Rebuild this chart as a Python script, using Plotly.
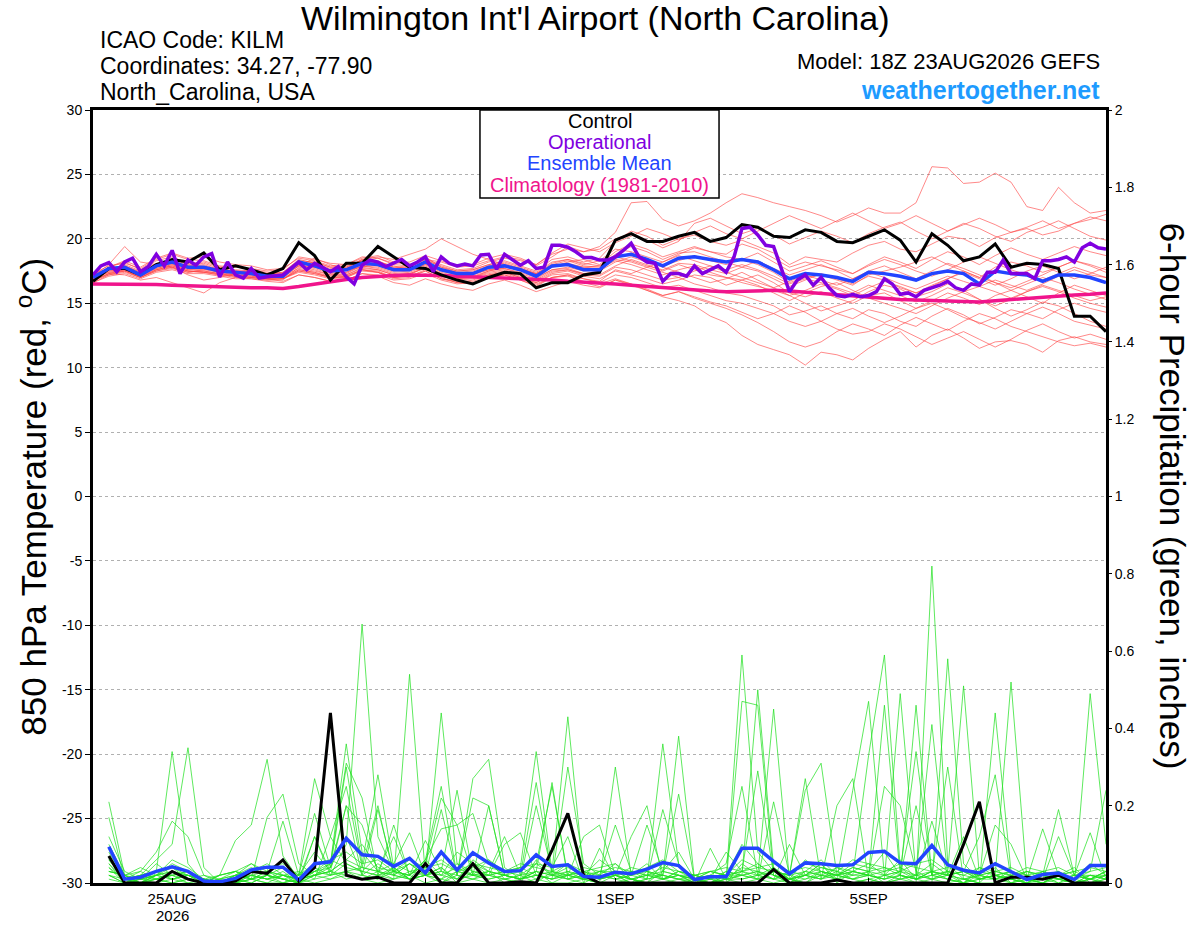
import pandas as pd
import plotly.graph_objects as go

# GEFS 18Z 23AUG2026 run, 6-hourly steps (operational is 3-hourly)
times = pd.date_range("2026-08-23 18:00", periods=65, freq="6h")
op_times = pd.date_range("2026-08-23 18:00", periods=129, freq="3h")
precip_times = times[1:]

tick_dates = ["2026-08-25", "2026-08-27", "2026-08-29", "2026-09-01",
              "2026-09-03", "2026-09-05", "2026-09-07"]
tick_labels = ["25AUG", "27AUG", "29AUG", "1SEP", "3SEP", "5SEP", "7SEP"]
year_label = "2026"

temp_ticks = [-30, -25, -20, -15, -10, -5, 0, 5, 10, 15, 20, 25, 30]

# 850 hPa temperature (C)
control_t = [16.7, 17.7, 17.7, 17.2, 18.0, 18.4, 18.2, 18.9, 17.6, 17.9, 17.6, 17.2, 17.7,
             19.7, 18.7, 16.8, 18.1, 18.1, 19.4, 18.6, 17.8, 17.7, 17.2, 16.8, 16.5, 17.0,
             17.4, 17.3, 16.2, 16.6, 16.6, 17.2, 17.4, 19.9, 20.4, 19.8, 19.8, 20.2, 20.5,
             19.8, 20.1, 21.1, 20.9, 20.2, 20.1, 20.7, 20.5, 19.8, 19.7, 20.2, 20.7, 19.9,
             18.2, 20.4, 19.5, 18.3, 18.6, 19.6, 17.8, 18.1, 18.0, 17.7, 14.0, 14.0, 12.8]

mean_t = [17.0, 17.7, 17.8, 17.2, 17.9, 18.2, 17.8, 17.8, 17.5, 17.4, 17.3, 17.1, 17.1,
          18.2, 17.9, 17.5, 17.6, 18.1, 18.0, 17.6, 17.6, 18.2, 17.6, 17.3, 17.3, 17.8,
          17.9, 17.6, 17.1, 17.9, 18.0, 17.6, 17.6, 18.6, 18.8, 18.4, 17.9, 18.5, 18.6,
          18.4, 18.2, 18.4, 18.2, 17.6, 16.9, 17.3, 17.2, 17.0, 16.7, 17.4, 17.3, 17.1,
          16.8, 17.3, 17.5, 17.3, 16.5, 17.5, 17.3, 17.2, 16.7, 17.2, 17.2, 17.0, 16.6]

climo_t = [16.5, 16.5, 16.5, 16.5, 16.45, 16.4, 16.35, 16.3, 16.3, 16.25,
           16.2, 16.2, 16.15, 16.3, 16.5, 16.7, 16.85, 17.0, 17.1, 17.15,
           17.2, 17.2, 17.15, 17.1, 17.05, 17.0, 17.0, 16.95, 16.9, 16.8,
           16.7, 16.65, 16.6, 16.5, 16.4, 16.3, 16.2, 16.1, 16.0, 15.95,
           15.9, 15.95, 16.0, 16.0, 15.95, 15.85, 15.75, 15.65, 15.55, 15.45,
           15.35, 15.3, 15.25, 15.2, 15.15, 15.1, 15.1, 15.2, 15.3, 15.4,
           15.5, 15.6, 15.65, 15.7, 15.8]

oper_t = [17.2, 17.9, 18.15, 17.45, 18.2, 18.5, 17.45, 17.85, 18.8, 17.9,
          19.1, 17.3, 18.35, 17.95, 18.6, 18.85, 17.05, 18.2, 17.2, 16.95,
          17.7, 16.95, 17.05, 17.1, 17.2, 17.7, 18.2, 17.6, 18.1, 17.8,
          17.45, 17.85, 17.05, 16.5, 17.95, 18.35, 18.2, 17.85, 18.1, 18.4,
          17.9, 18.2, 18.6, 17.45, 18.6, 18.1, 17.9, 18.05, 17.9, 18.75,
          18.8, 17.65, 18.8, 18.35, 17.95, 18.3, 17.7, 17.8, 19.5, 19.5,
          19.35, 19.0, 18.55, 18.55, 18.35, 18.35, 18.6, 19.1, 19.65, 18.6,
          18.2, 18.1, 16.7, 17.3, 17.3, 17.1, 17.9, 17.3, 17.6, 17.9,
          17.4, 18.6, 20.8, 20.9, 20.3, 19.5, 19.4, 17.6, 15.9, 16.8,
          17.2, 16.4, 17.0, 16.2, 15.6, 15.5, 15.7, 15.5, 15.6, 15.9,
          16.9, 16.5, 15.7, 15.8, 15.5, 16.0, 16.2, 16.4, 16.7, 16.2,
          16.0, 16.5, 16.4, 17.4, 17.4, 18.35, 17.3, 17.3, 17.3, 16.9,
          18.3, 18.3, 18.4, 18.6, 18.2, 19.3, 19.65, 19.3, 19.2]

# ensemble members, temperature
mem_t01 = [17.2, 17.6, 18.0, 17.5, 18.1, 18.3, 17.9, 18.0, 17.6, 17.5, 17.4, 17.2, 17.3,
           18.0, 18.2, 17.8, 17.9, 18.3, 18.5, 18.0, 17.9, 18.4, 18.0, 17.6, 17.7, 18.2,
           18.5, 18.3, 18.0, 18.8, 19.2, 19.0, 19.4, 20.5, 22.8, 22.9, 21.5, 21.0, 21.4,
           22.0, 22.8, 23.5, 23.2, 22.8, 22.5, 22.2, 21.8, 21.3, 21.8, 22.4, 22.0, 22.0,
           22.8, 25.6, 25.5, 24.3, 24.4, 25.1, 24.4, 22.5, 22.2, 24.0, 22.8, 22.0, 22.2]
mem_t02 = [16.8, 17.3, 17.5, 17.0, 17.6, 17.9, 17.5, 17.4, 17.2, 17.0, 16.9, 16.8, 16.9,
           17.5, 17.3, 17.0, 17.1, 17.6, 17.4, 17.0, 17.2, 17.8, 17.0, 16.6, 16.5, 17.0,
           17.2, 16.8, 16.3, 17.0, 17.2, 16.6, 16.3, 16.8, 16.5, 16.0, 15.5, 15.2, 14.8,
           14.0, 13.5, 12.5, 11.8, 11.4, 11.0, 10.2, 11.2, 11.0, 10.6, 11.5, 12.2, 12.8,
           11.6, 12.5, 13.0, 12.3, 11.5, 12.0, 12.1, 11.8, 11.2, 12.1, 12.4, 12.0, 11.8]
mem_t03 = [16.9, 17.8, 18.2, 17.6, 18.3, 18.6, 18.1, 18.2, 17.8, 17.6, 17.5, 17.3, 17.4,
           18.4, 18.1, 17.7, 17.8, 18.4, 18.3, 17.8, 17.7, 18.6, 17.8, 17.5, 17.6, 18.0,
           18.3, 17.9, 17.5, 18.4, 18.6, 18.2, 18.5, 19.8, 20.6, 20.2, 19.5, 20.0, 20.3,
           19.8, 19.5, 19.9, 19.4, 18.9, 18.0, 18.6, 18.4, 18.2, 18.9, 19.5, 19.8, 19.2,
           19.0, 19.6, 20.2, 20.0, 19.4, 20.1, 20.5, 20.8, 20.3, 20.6, 21.2, 21.5, 21.9]
mem_t04 = [17.0, 17.4, 17.6, 17.1, 17.7, 18.0, 17.6, 17.5, 17.3, 17.1, 17.0, 16.8, 16.8,
           17.8, 17.6, 17.2, 17.3, 17.9, 17.7, 17.3, 17.4, 17.9, 17.3, 17.0, 17.0, 17.4,
           17.6, 17.2, 16.8, 17.5, 17.6, 17.2, 17.1, 17.8, 17.6, 17.2, 16.8, 17.0, 16.5,
           16.2, 15.8, 15.6, 15.2, 14.8, 14.1, 14.4, 14.8, 14.2, 13.8, 14.5, 14.2, 13.6,
           13.2, 14.0, 14.6, 14.1, 13.4, 13.9, 14.5, 14.2, 13.8, 14.5, 15.0, 14.6, 14.3]
mem_t05 = [17.1, 18.0, 19.4, 18.2, 18.0, 17.8, 17.2, 16.8, 17.0, 17.3, 17.6, 17.4, 17.2,
           17.9, 18.5, 18.0, 17.6, 17.8, 18.2, 17.9, 17.6, 18.0, 17.7, 17.4, 17.3, 17.6,
           17.9, 17.5, 17.2, 17.8, 18.2, 18.4, 18.0, 19.0, 19.6, 19.2, 18.6, 19.0, 19.4,
           19.0, 18.6, 18.4, 18.0, 17.4, 16.6, 17.0, 17.2, 16.8, 16.4, 17.2, 17.5, 17.8,
           18.2, 18.6, 18.0, 17.5, 17.0, 17.8, 18.2, 17.9, 17.4, 17.8, 18.3, 18.0, 17.6]
mem_t06 = [16.6, 17.2, 17.4, 17.0, 17.5, 17.7, 17.4, 17.6, 17.8, 17.9, 17.6, 17.2, 16.9,
           17.4, 17.2, 16.9, 17.0, 17.6, 17.4, 16.9, 17.0, 17.5, 16.9, 16.6, 16.8, 17.2,
           17.4, 17.0, 16.6, 17.3, 17.5, 17.1, 16.9, 17.5, 17.2, 16.9, 16.5, 16.8, 17.2,
           17.0, 16.4, 16.8, 17.2, 16.6, 15.8, 15.5, 15.9, 15.4, 15.0, 15.6, 15.8, 15.2,
           14.6, 15.2, 15.8, 15.4, 14.9, 15.6, 16.0, 15.5, 15.0, 15.8, 16.4, 16.0, 15.6]
mem_t07 = [17.3, 17.9, 18.1, 17.7, 18.4, 18.8, 18.4, 18.3, 17.9, 17.8, 17.7, 17.5, 17.6,
           18.6, 18.4, 18.1, 18.0, 18.5, 18.7, 18.2, 18.0, 18.4, 18.2, 17.8, 17.9, 18.3,
           18.6, 18.4, 17.9, 18.6, 19.4, 19.0, 19.2, 20.0, 20.4, 19.9, 19.3, 19.8, 21.2,
           21.6, 21.0, 20.4, 20.8, 20.3, 19.6, 20.1, 20.6, 20.2, 19.7, 20.4, 20.9, 21.3,
           20.6, 20.0, 20.6, 21.2, 20.8, 20.2, 19.8, 20.5, 20.9, 21.4, 20.8, 20.2, 19.9]
mem_t08 = [16.9, 17.5, 17.7, 17.3, 17.8, 18.1, 17.7, 17.6, 17.4, 17.2, 17.1, 17.0, 17.0,
           17.9, 17.8, 17.4, 17.4, 18.0, 17.9, 17.5, 17.6, 18.1, 17.5, 17.2, 17.2, 17.6,
           17.7, 17.4, 17.0, 17.6, 17.7, 17.3, 17.2, 17.9, 18.4, 18.0, 17.5, 18.0, 17.6,
           17.2, 17.0, 16.6, 16.3, 16.0, 15.6, 15.0, 14.4, 14.8, 15.2, 15.9, 16.4, 16.1,
           15.5, 15.9, 16.5, 16.0, 15.3, 14.6, 14.0, 14.5, 15.1, 14.8, 14.2, 13.6, 13.2]
mem_t09 = [16.8, 17.3, 17.2, 16.8, 17.0, 16.6, 16.2, 15.8, 16.6, 17.0, 17.3, 16.9, 16.7,
           17.2, 17.0, 16.7, 16.8, 17.3, 17.1, 16.6, 16.4, 16.9, 16.5, 16.2, 16.0, 16.5,
           16.8, 16.4, 15.9, 16.3, 16.7, 16.4, 16.2, 16.8, 16.4, 16.0, 15.6, 15.9, 15.4,
           15.0, 14.6, 14.1, 13.5, 12.8, 12.0, 11.6, 12.0, 12.8, 13.4, 13.0, 12.5, 13.3,
           13.9, 13.4, 12.9, 13.6, 14.2, 13.8, 13.2, 12.8, 12.4, 12.0, 11.7, 11.9, 11.6]
mem_t10 = [17.2, 17.7, 17.9, 17.4, 18.0, 18.4, 18.0, 18.1, 17.7, 17.5, 17.4, 17.2, 17.3,
           18.2, 18.0, 17.6, 17.7, 18.2, 18.1, 17.7, 17.8, 18.3, 17.9, 17.5, 17.6, 18.0,
           18.2, 17.8, 17.4, 18.2, 18.4, 18.0, 18.3, 19.2, 19.0, 18.6, 18.2, 18.8, 19.3,
           19.0, 18.8, 19.6, 19.2, 18.5, 17.8, 18.2, 17.9, 17.6, 17.3, 18.0, 18.6, 18.2,
           17.7, 18.4, 19.0, 18.6, 18.0, 18.7, 19.3, 18.8, 18.4, 18.9, 19.4, 19.0, 18.7]
mem_t11 = [17.0, 17.6, 17.9, 17.4, 17.9, 18.2, 17.8, 17.8, 17.5, 17.4, 17.3, 17.0, 17.2,
           18.0, 17.8, 17.5, 17.7, 18.4, 18.6, 18.4, 18.8, 19.2, 20.0, 19.4, 18.8, 18.4,
           18.0, 17.6, 17.3, 17.9, 18.1, 17.8, 17.7, 18.3, 18.0, 17.6, 17.2, 17.6, 17.9,
           17.4, 17.0, 16.8, 16.4, 15.8, 15.2, 15.8, 16.3, 16.6, 16.0, 15.4, 15.0, 14.6,
           14.2, 14.8, 15.4, 15.9, 16.3, 16.8, 16.4, 16.0, 16.5, 17.1, 17.6, 17.2, 17.0]
mem_t12 = [16.7, 17.3, 17.6, 17.2, 17.7, 18.0, 17.6, 17.7, 17.5, 17.3, 17.2, 17.1, 17.1,
           17.7, 17.5, 17.2, 17.2, 17.7, 17.6, 17.2, 17.3, 17.8, 17.2, 16.9, 17.0, 17.5,
           17.8, 17.6, 17.2, 17.8, 18.0, 17.8, 17.9, 18.8, 19.4, 19.0, 18.4, 18.9, 19.0,
           18.6, 18.2, 17.8, 18.3, 17.7, 17.2, 17.6, 18.0, 17.5, 16.9, 17.5, 17.9, 17.4,
           16.9, 17.5, 18.1, 17.7, 17.2, 16.6, 16.0, 16.5, 17.0, 16.6, 16.1, 15.7, 15.3]
mem_t13 = [17.1, 17.5, 17.6, 17.0, 17.6, 17.9, 17.5, 17.4, 17.2, 17.1, 17.0, 16.9, 17.0,
           17.6, 17.4, 17.0, 17.1, 17.6, 17.5, 17.0, 17.1, 17.6, 17.1, 16.8, 16.9, 17.2,
           17.4, 17.0, 16.6, 17.2, 17.3, 16.9, 16.6, 17.2, 17.0, 16.6, 16.2, 16.4, 16.0,
           15.6, 15.2, 15.0, 14.6, 14.2, 13.6, 13.2, 13.6, 14.2, 14.6, 14.0, 13.5, 14.0,
           14.6, 15.0, 14.5, 13.9, 13.5, 13.0, 13.6, 14.2, 14.7, 14.2, 13.6, 13.3, 13.0]
mem_t14 = [17.0, 17.8, 18.3, 17.8, 18.5, 18.9, 18.5, 18.6, 18.2, 18.0, 17.9, 17.6, 17.7,
           18.5, 18.3, 17.9, 18.0, 18.6, 18.5, 18.1, 18.2, 18.7, 18.3, 17.9, 18.0, 18.5,
           18.8, 18.5, 18.0, 18.9, 19.6, 19.3, 19.0, 19.7, 20.2, 20.8, 20.4, 19.9, 20.5,
           21.0, 20.4, 20.0, 20.6, 21.2, 21.8, 21.3, 20.8, 21.4, 22.0, 21.4, 20.8, 21.2,
           21.8, 21.2, 20.6, 21.1, 21.6, 21.1, 20.5, 20.9, 21.4, 20.8, 21.2, 21.7, 21.4]
mem_t15 = [16.6, 17.1, 17.3, 16.9, 17.4, 17.6, 17.3, 17.3, 17.1, 16.9, 16.9, 16.7, 16.6,
           17.2, 17.0, 16.7, 16.8, 17.3, 17.2, 16.8, 16.9, 17.3, 16.8, 16.5, 16.6, 17.0,
           17.2, 16.8, 16.4, 17.0, 17.2, 16.9, 16.7, 17.6, 17.3, 17.8, 17.4, 17.0, 17.5,
           17.9, 17.4, 17.0, 16.6, 16.2, 16.7, 17.2, 16.8, 16.4, 16.9, 17.4, 17.0, 16.5,
           16.1, 16.6, 17.1, 16.7, 16.3, 15.9, 15.4, 15.9, 16.4, 16.0, 15.6, 15.2, 15.5]
mem_t16 = [17.3, 17.7, 17.8, 17.3, 17.9, 18.2, 17.9, 17.9, 17.6, 17.5, 17.5, 17.3, 17.4,
           18.3, 18.2, 17.8, 17.8, 18.3, 18.2, 17.8, 17.9, 18.4, 17.8, 17.4, 17.5, 17.9,
           18.1, 17.7, 17.3, 18.0, 18.3, 17.9, 17.8, 18.5, 18.9, 18.4, 17.9, 18.3, 18.7,
           18.3, 18.0, 18.4, 18.9, 18.2, 17.5, 17.9, 18.3, 17.8, 17.3, 17.9, 18.4, 18.0,
           17.5, 17.1, 17.6, 18.2, 18.6, 18.1, 17.6, 17.2, 16.8, 17.3, 17.8, 17.4, 17.0]
mem_t17 = [16.9, 17.4, 17.5, 17.1, 17.6, 17.8, 17.5, 17.4, 17.3, 17.2, 17.1, 16.9, 16.9,
           17.5, 17.3, 17.0, 17.0, 17.5, 17.4, 17.0, 17.1, 17.5, 16.9, 16.7, 16.7, 17.1,
           17.3, 16.9, 16.5, 17.0, 17.1, 16.7, 16.5, 16.9, 16.5, 16.1, 15.6, 15.9, 15.5,
           15.1, 14.8, 14.3, 13.8, 14.2, 14.8, 14.3, 13.6, 13.0, 12.6, 12.8, 13.4, 13.0,
           12.4, 11.8, 12.3, 12.8, 12.2, 11.6, 12.2, 12.9, 13.4, 12.8, 12.3, 12.6, 12.2]
mem_t18 = [17.1, 17.6, 17.8, 17.3, 18.0, 18.3, 17.8, 17.8, 17.5, 17.4, 17.3, 17.1, 17.2,
           18.1, 17.9, 17.5, 17.6, 18.1, 18.0, 17.6, 17.7, 18.2, 17.6, 17.3, 17.4, 17.8,
           18.0, 17.7, 17.3, 18.1, 18.4, 18.1, 17.9, 18.6, 18.3, 17.9, 17.6, 18.1, 18.0,
           17.6, 17.3, 17.8, 17.5, 16.9, 16.3, 16.8, 17.3, 16.9, 16.5, 17.1, 16.8, 16.2,
           15.8, 16.3, 16.9, 17.4, 16.9, 16.4, 16.9, 17.5, 17.9, 17.4, 16.9, 17.3, 17.8]
mem_t19 = [16.8, 17.2, 17.5, 17.0, 17.5, 17.8, 17.4, 17.5, 17.3, 17.1, 17.0, 16.9, 16.9,
           17.6, 17.4, 17.1, 17.2, 17.8, 17.6, 17.2, 17.3, 17.7, 17.2, 16.9, 17.0, 17.3,
           17.5, 17.1, 16.7, 17.4, 17.6, 17.3, 17.5, 18.2, 18.6, 18.2, 17.8, 17.4, 17.0,
           16.6, 16.9, 17.4, 16.8, 16.2, 15.6, 16.0, 16.5, 16.1, 15.6, 16.2, 16.7, 16.3,
           15.8, 16.4, 16.9, 17.5, 17.0, 16.6, 16.2, 16.7, 17.2, 17.8, 18.3, 17.9, 17.4]
mem_t20 = [17.0, 17.6, 17.7, 17.2, 17.8, 18.1, 17.7, 17.7, 17.4, 17.3, 17.2, 17.0, 17.1,
           17.9, 17.7, 17.3, 17.4, 17.9, 17.8, 17.4, 17.5, 18.0, 17.4, 17.1, 17.1, 17.5,
           17.7, 17.3, 16.9, 17.6, 17.8, 17.5, 17.6, 18.4, 18.2, 17.8, 18.2, 18.7, 18.3,
           17.9, 17.6, 18.0, 17.6, 17.1, 16.5, 16.9, 16.6, 16.2, 15.8, 16.4, 16.0, 15.6,
           15.1, 15.6, 16.2, 15.8, 15.3, 14.8, 15.3, 15.9, 16.3, 15.9, 15.4, 15.0, 14.7]

# 6-hour precipitation (inches), first value is the 00Z 24AUG step
control_p = [0.07, 0.0, 0.0, 0.0, 0.03, 0.01, 0.0, 0.0, 0.005, 0.03, 0.025, 0.06, 0.005,
             0.04, 0.44, 0.02, 0.01, 0.015, 0.0, 0.0, 0.05, 0.0, 0.0, 0.05, 0.0, 0.0,
             0.003, 0.0, 0.085, 0.18, 0.02, 0.0, 0.0, 0.0, 0.0, 0.0, 0.0, 0.0, 0.0, 0.0,
             0.0, 0.0, 0.035, 0.0, 0.0, 0.0, 0.008, 0.0, 0.0, 0.0, 0.0, 0.0, 0.0, 0.0,
             0.1, 0.21, 0.0, 0.015, 0.015, 0.01, 0.02, 0.0, 0.0, 0.0]

mean_p = [0.094, 0.01, 0.015, 0.03, 0.042, 0.03, 0.005, 0.003, 0.012, 0.034, 0.041,
          0.041, 0.008, 0.05, 0.055, 0.116, 0.073, 0.069, 0.043, 0.064, 0.026, 0.08,
          0.034, 0.078, 0.052, 0.03, 0.032, 0.073, 0.043, 0.047, 0.017, 0.015, 0.028,
          0.024, 0.036, 0.053, 0.045, 0.009, 0.016, 0.016, 0.09, 0.09, 0.056, 0.024,
          0.052, 0.05, 0.045, 0.047, 0.079, 0.082, 0.052, 0.05, 0.097, 0.047, 0.033,
          0.026, 0.05, 0.03, 0.009, 0.022, 0.026, 0.009, 0.045, 0.045]

# ensemble members, precipitation
mem_p01 = [0.21, 0.02, 0.00, 0.03, 0.34, 0.05, 0.00, 0.00, 0.01, 0.03, 0.05, 0.02, 0.00, 0.04, 0.02, 0.10,
           0.67, 0.12, 0.03, 0.05, 0.02, 0.04, 0.01, 0.06, 0.03, 0.00, 0.01, 0.05, 0.04, 0.12, 0.00, 0.02,
           0.05, 0.01, 0.00, 0.03, 0.08, 0.01, 0.00, 0.02, 0.10, 0.05, 0.02, 0.00, 0.03, 0.06, 0.02, 0.01,
           0.03, 0.08, 0.02, 0.00, 0.82, 0.05, 0.01, 0.00, 0.04, 0.00, 0.01, 0.02, 0.00, 0.01, 0.05, 0.02]
mem_p02 = [0.17, 0.01, 0.02, 0.06, 0.10, 0.35, 0.04, 0.00, 0.00, 0.02, 0.01, 0.03, 0.00, 0.02, 0.05, 0.36,
           0.08, 0.03, 0.01, 0.54, 0.02, 0.04, 0.00, 0.03, 0.02, 0.01, 0.00, 0.06, 0.02, 0.03, 0.01, 0.00,
           0.02, 0.00, 0.01, 0.36, 0.05, 0.00, 0.02, 0.01, 0.59, 0.08, 0.03, 0.01, 0.02, 0.05, 0.00, 0.03,
           0.05, 0.02, 0.06, 0.01, 0.03, 0.01, 0.00, 0.04, 0.02, 0.01, 0.00, 0.03, 0.01, 0.00, 0.49, 0.10]
mem_p03 = [0.12, 0.03, 0.01, 0.02, 0.04, 0.01, 0.00, 0.02, 0.11, 0.15, 0.32, 0.07, 0.01, 0.03, 0.04, 0.30,
           0.05, 0.28, 0.04, 0.01, 0.02, 0.44, 0.05, 0.02, 0.06, 0.01, 0.02, 0.00, 0.03, 0.05, 0.01, 0.00,
           0.30, 0.02, 0.01, 0.02, 0.38, 0.01, 0.00, 0.03, 0.02, 0.50, 0.04, 0.01, 0.00, 0.02, 0.01, 0.00,
           0.01, 0.00, 0.02, 0.01, 0.00, 0.58, 0.05, 0.01, 0.02, 0.03, 0.01, 0.00, 0.02, 0.01, 0.03, 0.24]
mem_p04 = [0.10, 0.02, 0.03, 0.08, 0.16, 0.12, 0.02, 0.01, 0.00, 0.01, 0.17, 0.23, 0.05, 0.02, 0.03, 0.01,
           0.02, 0.01, 0.03, 0.02, 0.05, 0.00, 0.02, 0.27, 0.32, 0.04, 0.01, 0.03, 0.00, 0.02, 0.03, 0.01,
           0.02, 0.00, 0.03, 0.01, 0.03, 0.02, 0.01, 0.00, 0.47, 0.46, 0.02, 0.00, 0.01, 0.03, 0.02, 0.04,
           0.03, 0.00, 0.01, 0.02, 0.41, 0.02, 0.00, 0.01, 0.02, 0.52, 0.01, 0.00, 0.03, 0.00, 0.01, 0.02]
mem_p05 = [0.08, 0.01, 0.00, 0.02, 0.05, 0.03, 0.01, 0.00, 0.02, 0.05, 0.03, 0.16, 0.02, 0.27, 0.12, 0.25,
           0.04, 0.20, 0.02, 0.05, 0.03, 0.02, 0.01, 0.05, 0.02, 0.03, 0.04, 0.34, 0.03, 0.43, 0.02, 0.01,
           0.02, 0.01, 0.00, 0.01, 0.03, 0.01, 0.02, 0.05, 0.25, 0.02, 0.45, 0.01, 0.00, 0.03, 0.02, 0.01,
           0.00, 0.02, 0.01, 0.46, 0.02, 0.01, 0.00, 0.03, 0.02, 0.00, 0.01, 0.00, 0.02, 0.04, 0.00, 0.01]
mem_p06 = [0.04, 0.00, 0.02, 0.01, 0.03, 0.02, 0.00, 0.01, 0.03, 0.02, 0.01, 0.00, 0.02, 0.18, 0.04, 0.20,
           0.15, 0.03, 0.05, 0.13, 0.02, 0.00, 0.03, 0.02, 0.20, 0.02, 0.01, 0.03, 0.26, 0.01, 0.02, 0.03,
           0.03, 0.01, 0.02, 0.02, 0.23, 0.01, 0.00, 0.02, 0.03, 0.01, 0.21, 0.02, 0.27, 0.01, 0.03, 0.02,
           0.33, 0.59, 0.04, 0.01, 0.02, 0.03, 0.00, 0.02, 0.01, 0.00, 0.02, 0.01, 0.00, 0.02, 0.01, 0.00]
mem_p07 = [0.06, 0.01, 0.01, 0.02, 0.03, 0.01, 0.00, 0.02, 0.03, 0.01, 0.02, 0.01, 0.00, 0.03, 0.05, 0.31,
           0.22, 0.02, 0.04, 0.01, 0.06, 0.25, 0.02, 0.01, 0.03, 0.12, 0.02, 0.05, 0.25, 0.02, 0.01, 0.03,
           0.02, 0.12, 0.20, 0.01, 0.02, 0.00, 0.01, 0.03, 0.02, 0.01, 0.03, 0.02, 0.24, 0.31, 0.02, 0.03,
           0.02, 0.01, 0.49, 0.02, 0.01, 0.03, 0.51, 0.02, 0.01, 0.02, 0.00, 0.01, 0.02, 0.00, 0.01, 0.03]
mem_p08 = [0.03, 0.02, 0.00, 0.01, 0.02, 0.03, 0.01, 0.00, 0.00, 0.02, 0.01, 0.02, 0.01, 0.12, 0.03, 0.20,
           0.02, 0.19, 0.03, 0.02, 0.05, 0.22, 0.15, 0.18, 0.05, 0.02, 0.01, 0.02, 0.01, 0.30, 0.05, 0.02,
           0.15, 0.03, 0.01, 0.19, 0.05, 0.01, 0.02, 0.00, 0.03, 0.29, 0.02, 0.01, 0.02, 0.04, 0.03, 0.01,
           0.02, 0.25, 0.20, 0.03, 0.01, 0.02, 0.03, 0.12, 0.28, 0.01, 0.00, 0.02, 0.01, 0.00, 0.02, 0.01]
mem_p09 = [0.02, 0.00, 0.01, 0.00, 0.01, 0.02, 0.00, 0.00, 0.01, 0.00, 0.02, 0.01, 0.00, 0.01, 0.12, 0.05,
           0.03, 0.02, 0.15, 0.02, 0.11, 0.03, 0.24, 0.02, 0.02, 0.10, 0.13, 0.02, 0.03, 0.01, 0.00, 0.09,
           0.01, 0.02, 0.03, 0.02, 0.01, 0.00, 0.09, 0.01, 0.02, 0.03, 0.01, 0.10, 0.02, 0.01, 0.20, 0.27,
           0.01, 0.02, 0.03, 0.01, 0.16, 0.02, 0.01, 0.00, 0.44, 0.03, 0.01, 0.00, 0.02, 0.01, 0.00, 0.02]
mem_p10 = [0.05, 0.01, 0.02, 0.03, 0.01, 0.02, 0.01, 0.00, 0.01, 0.02, 0.03, 0.02, 0.01, 0.02, 0.03, 0.06,
           0.04, 0.03, 0.12, 0.02, 0.06, 0.14, 0.15, 0.02, 0.03, 0.02, 0.01, 0.20, 0.03, 0.02, 0.12, 0.15,
           0.02, 0.04, 0.03, 0.02, 0.01, 0.02, 0.01, 0.08, 0.03, 0.02, 0.04, 0.01, 0.02, 0.05, 0.01, 0.24,
           0.47, 0.02, 0.03, 0.34, 0.02, 0.30, 0.01, 0.02, 0.15, 0.10, 0.01, 0.14, 0.02, 0.00, 0.01, 0.00]
mem_p11 = [0.03, 0.02, 0.01, 0.05, 0.02, 0.01, 0.00, 0.01, 0.02, 0.04, 0.02, 0.01, 0.00, 0.12, 0.02, 0.03,
           0.01, 0.02, 0.03, 0.01, 0.02, 0.03, 0.02, 0.22, 0.20, 0.02, 0.03, 0.01, 0.02, 0.01, 0.03, 0.02,
           0.01, 0.02, 0.15, 0.03, 0.02, 0.01, 0.00, 0.01, 0.02, 0.03, 0.01, 0.02, 0.03, 0.02, 0.01, 0.03,
           0.02, 0.46, 0.02, 0.01, 0.03, 0.02, 0.12, 0.01, 0.02, 0.01, 0.03, 0.02, 0.19, 0.02, 0.01, 0.03]
mem_p12 = [0.02, 0.01, 0.00, 0.02, 0.03, 0.02, 0.01, 0.00, 0.02, 0.01, 0.00, 0.02, 0.01, 0.03, 0.02, 0.05,
           0.03, 0.02, 0.01, 0.03, 0.02, 0.19, 0.02, 0.01, 0.02, 0.03, 0.02, 0.26, 0.02, 0.01, 0.02, 0.01,
           0.02, 0.01, 0.00, 0.05, 0.02, 0.01, 0.03, 0.02, 0.02, 0.01, 0.03, 0.02, 0.01, 0.02, 0.02, 0.03,
           0.02, 0.01, 0.02, 0.20, 0.02, 0.03, 0.02, 0.01, 0.01, 0.03, 0.02, 0.01, 0.12, 0.02, 0.13, 0.01]
mem_p13 = [0.05, 0.00, 0.01, 0.02, 0.01, 0.00, 0.00, 0.02, 0.03, 0.01, 0.02, 0.00, 0.01, 0.02, 0.04, 0.12,
           0.02, 0.05, 0.02, 0.01, 0.03, 0.02, 0.04, 0.02, 0.01, 0.02, 0.04, 0.02, 0.01, 0.03, 0.02, 0.01,
           0.03, 0.02, 0.05, 0.01, 0.02, 0.02, 0.01, 0.00, 0.05, 0.02, 0.01, 0.03, 0.02, 0.01, 0.04, 0.02,
           0.03, 0.02, 0.01, 0.02, 0.05, 0.02, 0.03, 0.02, 0.01, 0.02, 0.03, 0.01, 0.02, 0.03, 0.01, 0.03]
mem_p14 = [0.04, 0.01, 0.03, 0.01, 0.02, 0.03, 0.01, 0.00, 0.01, 0.02, 0.01, 0.02, 0.03, 0.01, 0.02, 0.03,
           0.04, 0.03, 0.02, 0.05, 0.02, 0.01, 0.05, 0.03, 0.02, 0.01, 0.02, 0.03, 0.02, 0.02, 0.01, 0.03,
           0.02, 0.03, 0.02, 0.01, 0.00, 0.01, 0.02, 0.01, 0.04, 0.03, 0.02, 0.01, 0.03, 0.02, 0.04, 0.03,
           0.02, 0.03, 0.04, 0.02, 0.03, 0.02, 0.01, 0.02, 0.03, 0.02, 0.01, 0.03, 0.01, 0.02, 0.02, 0.01]
mem_p15 = [0.09, 0.02, 0.00, 0.01, 0.00, 0.01, 0.02, 0.00, 0.00, 0.01, 0.03, 0.01, 0.02, 0.05, 0.06, 0.08,
           0.05, 0.06, 0.03, 0.02, 0.06, 0.02, 0.08, 0.05, 0.03, 0.02, 0.01, 0.03, 0.02, 0.04, 0.02, 0.06,
           0.03, 0.01, 0.02, 0.03, 0.02, 0.00, 0.01, 0.02, 0.03, 0.05, 0.02, 0.01, 0.06, 0.03, 0.02, 0.04,
           0.03, 0.04, 0.02, 0.01, 0.03, 0.02, 0.03, 0.01, 0.02, 0.01, 0.03, 0.02, 0.01, 0.02, 0.01, 0.02]
mem_p16 = [0.02, 0.00, 0.01, 0.01, 0.02, 0.00, 0.01, 0.00, 0.01, 0.00, 0.02, 0.01, 0.00, 0.02, 0.01, 0.03,
           0.02, 0.01, 0.04, 0.01, 0.02, 0.01, 0.03, 0.02, 0.01, 0.02, 0.01, 0.02, 0.01, 0.02, 0.01, 0.02,
           0.01, 0.00, 0.01, 0.02, 0.01, 0.01, 0.00, 0.01, 0.01, 0.02, 0.01, 0.00, 0.02, 0.01, 0.02, 0.01,
           0.02, 0.01, 0.02, 0.01, 0.02, 0.01, 0.00, 0.01, 0.02, 0.01, 0.00, 0.02, 0.01, 0.00, 0.02, 0.01]
mem_p17 = [0.07, 0.01, 0.02, 0.03, 0.04, 0.02, 0.01, 0.02, 0.03, 0.05, 0.02, 0.04, 0.02, 0.03, 0.06, 0.04,
           0.03, 0.07, 0.05, 0.03, 0.04, 0.06, 0.03, 0.05, 0.04, 0.03, 0.05, 0.04, 0.03, 0.02, 0.04, 0.03,
           0.04, 0.03, 0.02, 0.04, 0.03, 0.02, 0.03, 0.04, 0.03, 0.04, 0.05, 0.03, 0.04, 0.03, 0.02, 0.05,
           0.04, 0.03, 0.05, 0.04, 0.03, 0.04, 0.03, 0.02, 0.03, 0.04, 0.02, 0.03, 0.04, 0.02, 0.03, 0.04]
mem_p18 = [0.01, 0.00, 0.00, 0.01, 0.00, 0.01, 0.00, 0.00, 0.00, 0.01, 0.00, 0.00, 0.01, 0.00, 0.01, 0.02,
           0.01, 0.00, 0.01, 0.02, 0.00, 0.01, 0.00, 0.01, 0.00, 0.01, 0.00, 0.01, 0.00, 0.00, 0.01, 0.00,
           0.00, 0.01, 0.00, 0.00, 0.01, 0.00, 0.00, 0.01, 0.00, 0.01, 0.00, 0.01, 0.00, 0.00, 0.01, 0.00,
           0.01, 0.00, 0.01, 0.00, 0.01, 0.00, 0.01, 0.00, 0.00, 0.01, 0.00, 0.00, 0.01, 0.00, 0.00, 0.01]
mem_p19 = [0.03, 0.02, 0.04, 0.02, 0.06, 0.04, 0.01, 0.00, 0.02, 0.03, 0.04, 0.05, 0.02, 0.08, 0.03, 0.06,
           0.10, 0.04, 0.03, 0.06, 0.04, 0.05, 0.03, 0.04, 0.06, 0.03, 0.04, 0.05, 0.02, 0.05, 0.03, 0.04,
           0.05, 0.02, 0.04, 0.06, 0.03, 0.02, 0.03, 0.02, 0.06, 0.04, 0.03, 0.02, 0.05, 0.04, 0.03, 0.06,
           0.05, 0.04, 0.03, 0.05, 0.06, 0.03, 0.02, 0.04, 0.03, 0.02, 0.04, 0.03, 0.02, 0.03, 0.04, 0.03]
mem_p20 = [0.06, 0.01, 0.00, 0.02, 0.01, 0.02, 0.00, 0.01, 0.02, 0.01, 0.03, 0.02, 0.01, 0.02, 0.03, 0.02,
           0.01, 0.03, 0.02, 0.01, 0.02, 0.03, 0.01, 0.02, 0.03, 0.02, 0.01, 0.02, 0.01, 0.02, 0.03, 0.01,
           0.02, 0.01, 0.02, 0.01, 0.02, 0.01, 0.03, 0.02, 0.01, 0.02, 0.03, 0.01, 0.02, 0.03, 0.01, 0.02,
           0.02, 0.01, 0.03, 0.02, 0.01, 0.02, 0.03, 0.01, 0.02, 0.03, 0.01, 0.02, 0.03, 0.01, 0.02, 0.02]

members_t = [mem_t01, mem_t02, mem_t03, mem_t04, mem_t05, mem_t06, mem_t07, mem_t08, mem_t09, mem_t10,
             mem_t11, mem_t12, mem_t13, mem_t14, mem_t15, mem_t16, mem_t17, mem_t18, mem_t19, mem_t20]
members_p = [mem_p01, mem_p02, mem_p03, mem_p04, mem_p05, mem_p06, mem_p07, mem_p08, mem_p09, mem_p10,
             mem_p11, mem_p12, mem_p13, mem_p14, mem_p15, mem_p16, mem_p17, mem_p18, mem_p19, mem_p20]

FONT = "Liberation Sans, Arial, sans-serif"
RED = "rgba(255,70,70,0.8)"
GREEN = "rgba(30,225,30,0.9)"
BLACK = "#000000"
PURPLE = "#8000E0"
BLUE = "#2244FF"
PINK = "#F0148C"

fig = go.Figure()

# thin member lines first
for m in members_t:
    fig.add_trace(go.Scatter(x=times, y=m, mode="lines", line=dict(color=RED, width=0.8),
                             hoverinfo="skip", showlegend=False))
for m in members_p:
    fig.add_trace(go.Scatter(x=precip_times, y=m, mode="lines", yaxis="y2",
                             line=dict(color=GREEN, width=0.8), hoverinfo="skip", showlegend=False))

# precipitation control / mean
fig.add_trace(go.Scatter(x=precip_times, y=control_p, mode="lines", yaxis="y2",
                         line=dict(color=BLACK, width=3), showlegend=False))
fig.add_trace(go.Scatter(x=precip_times, y=mean_p, mode="lines", yaxis="y2",
                         line=dict(color=BLUE, width=3.5), showlegend=False))

# temperature: climatology, control, mean, operational
fig.add_trace(go.Scatter(x=times, y=climo_t, mode="lines", line=dict(color=PINK, width=3.5),
                         showlegend=False))
fig.add_trace(go.Scatter(x=times, y=control_t, mode="lines", line=dict(color=BLACK, width=3),
                         showlegend=False))
fig.add_trace(go.Scatter(x=times, y=mean_t, mode="lines", line=dict(color=BLUE, width=3.5),
                         showlegend=False))
fig.add_trace(go.Scatter(x=op_times, y=oper_t, mode="lines", line=dict(color=PURPLE, width=3.5),
                         showlegend=False))

annotations = [
    dict(text="Wilmington Int'l Airport (North Carolina)", x=0.4956, y=1.119, font=dict(size=34)),
    dict(text="ICAO Code: KILM", x=0.005, y=1.0906, xanchor="left", font=dict(size=23)),
    dict(text="Coordinates: 34.27, -77.90", x=0.005, y=1.0569, xanchor="left", font=dict(size=23)),
    dict(text="North_Carolina, USA", x=0.005, y=1.0233, xanchor="left", font=dict(size=23)),
    dict(text="Model: 18Z 23AUG2026 GEFS", x=0.996, y=1.0625, xanchor="right", font=dict(size=22)),
    dict(text="<b>weathertogether.net</b>", x=0.996, y=1.0262, xanchor="right",
         font=dict(size=25, color="#1E9BFF")),
    # legend box entries
    dict(text="Control", x=0.5, y=0.9858, font=dict(size=20, color=BLACK)),
    dict(text="Operational", x=0.5, y=0.9586, font=dict(size=20, color=PURPLE)),
    dict(text="Ensemble Mean", x=0.5, y=0.9314, font=dict(size=20, color=BLUE)),
    dict(text="Climatology (1981-2010)", x=0.5, y=0.9030, font=dict(size=20, color=PINK)),
    # axis titles
    dict(text="850 hPa Temperature (red, <sup>o</sup>C)", x=-0.061, y=0.5, textangle=-90,
         font=dict(size=35)),
    dict(text="6-hour Precipitation (green, inches)", x=1.066, y=0.5, textangle=90,
         font=dict(size=35)),
]
for a in annotations:
    a.update(xref="paper", yref="paper", showarrow=False)
    a.setdefault("xanchor", "center")
    a["yanchor"] = "middle"
    a["font"].setdefault("color", "black")
    a["font"].setdefault("family", FONT)

# year under the first date label
annotations.append(dict(text=year_label, x=tick_dates[0], xref="x", y=-0.0425, yref="paper",
                        showarrow=False, xanchor="center", yanchor="middle",
                        font=dict(size=15, family=FONT, color="black")))

fig.update_layout(
    width=1200, height=927,
    margin=dict(l=93, r=94, t=110, b=44, autoexpand=False),
    paper_bgcolor="white", plot_bgcolor="white",
    font=dict(family=FONT, color="black"),
    showlegend=False,
    annotations=annotations,
    shapes=[dict(type="rect", xref="paper", yref="paper", x0=0.382, x1=0.618, y0=0.8862, y1=1.0,
                 fillcolor="white", line=dict(color="black", width=1.5), layer="above")],
    xaxis=dict(range=[times[0], times[-1]], tickvals=tick_dates, ticktext=tick_labels,
               showgrid=False, showline=True, linecolor="black", linewidth=3, mirror=True,
               ticks="inside", ticklen=5, tickcolor="black", tickfont=dict(size=15),
               zeroline=False, automargin=False),
    yaxis=dict(range=[-30, 30], tickvals=temp_ticks, ticktext=[str(v) for v in temp_ticks],
               showgrid=True, gridcolor="#b0b0b0", griddash="dot", gridwidth=1,
               showline=True, linecolor="black", linewidth=3, mirror=True,
               ticks="outside", ticklen=5, tickcolor="black", tickfont=dict(size=14),
               zeroline=False, automargin=False),
    yaxis2=dict(range=[0, 2], dtick=0.2, overlaying="y", side="right", showgrid=False,
                ticks="outside", ticklen=5, tickcolor="black", tickfont=dict(size=14),
                zeroline=False, showline=False, automargin=False),
)

# drop the default page margin so the figure sits at the window corner
fig.write_html("out.html", config={"displayModeBar": False},
               post_script="document.body.style.margin='0';")
